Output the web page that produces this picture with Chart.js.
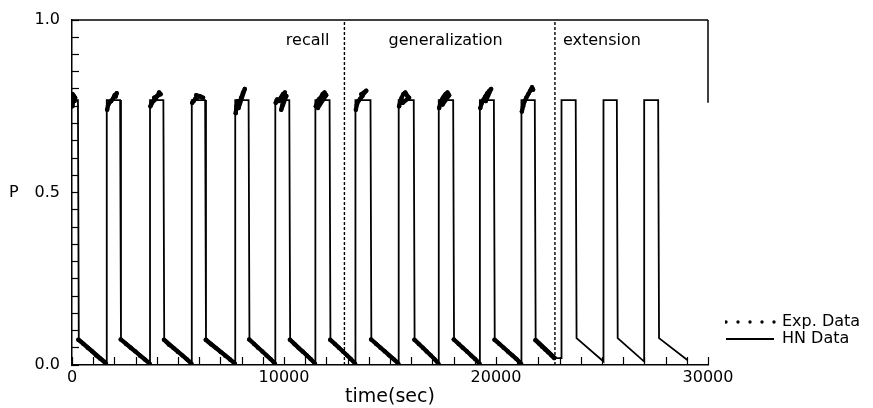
<!DOCTYPE html>
<html><head><meta charset="utf-8">
<script src="https://cdn.jsdelivr.net/npm/chart.js@4.4.1/dist/chart.umd.min.js"></script>
<style>html,body{margin:0;padding:0;background:#fff;} canvas{display:block;}</style>
</head><body>
<canvas id="c" width="873" height="408"></canvas>
<script>
// HN model output (time in s, P)
const hnTime = [
  0, 280, 320,
  1640, 1640, 2270, 2310,
  3680, 3680, 4310, 4350,
  5650, 5650, 6280, 6320,
  7700, 7700, 8330, 8370,
  9590, 9590, 10250, 10290,
  11480, 11480, 12150, 12190,
  13370, 13370, 14080, 14120,
  15410, 15410, 16120, 16160,
  17300, 17300, 17980, 18020,
  19240, 19240, 19900, 19940,
  21200, 21200, 21830, 21870,
  22870, 23090,
  23090, 23760, 23800,
  25070, 25070, 25700, 25740,
  26990, 26990, 27650, 27690,
  29040
];
const hnP = [
  0.768, 0.768, 0.078,
  0.008, 0.768, 0.768, 0.078,
  0.008, 0.768, 0.768, 0.078,
  0.008, 0.768, 0.768, 0.078,
  0.008, 0.768, 0.768, 0.078,
  0.008, 0.768, 0.768, 0.078,
  0.008, 0.768, 0.768, 0.078,
  0.008, 0.768, 0.768, 0.078,
  0.008, 0.768, 0.768, 0.078,
  0.008, 0.768, 0.768, 0.078,
  0.008, 0.768, 0.768, 0.078,
  0.008, 0.768, 0.768, 0.078,
  0.020, 0.020,
  0.768, 0.768, 0.078,
  0.010, 0.768, 0.768, 0.078,
  0.010, 0.768, 0.768, 0.078,
  0.014
];
// Experimental data (time in s, P); null separates the measured runs
const expTime = [
  0, 20, 40, 60, 90, 120, 150, 30, null,  300, 540, 740, 940, 1140, 1340, 1600, null,
  1660, 1700, 1760, 1850, 1930, 2010, 2110, 2060, null,  2300, 2550, 2770, 2990, 3210, 3430, 3660, null,
  3700, 3760, 3840, 3930, 4020, 4110, 4180, 3880, null,  4340, 4580, 4790, 5000, 5200, 5410, 5630, null,
  5670, 5740, 5820, 5900, 5990, 6080, 6180, 5860, null,  6310, 6560, 6790, 7010, 7230, 7450, 7680, null,
  7720, 7760, 7820, 7900, 7980, 8070, 8150, 7860, null,  8360, 8590, 8780, 8980, 9170, 9370, 9570, null,
  9610, 9680, 9760, 9850, 9950, 10040, 9870, 10110, null,  10280, 10500, 10690, 10880, 11070, 11260, 11460, null,
  11500, 11560, 11640, 11730, 11820, 11910, 11990, 11600, null,  12180, 12400, 12590, 12780, 12970, 13160, 13350, null,
  13390, 13440, 13510, 13600, 13700, 13800, 13880, 13650, null,  14110, 14350, 14550, 14760, 14960, 15170, 15390, null,
  15430, 15480, 15550, 15630, 15720, 15820, 15900, 15600, null,  16150, 16360, 16550, 16730, 16920, 17100, 17280, null,
  17320, 17380, 17450, 17530, 17620, 17710, 17790, 17480, null,  18010, 18240, 18430, 18630, 18820, 19020, 19220, null,
  19260, 19320, 19400, 19490, 19590, 19690, 19770, 19520, null,  19930, 20160, 20360, 20560, 20770, 20970, 21180, null,
  21220, 21280, 21350, 21430, 21520, 21610, 21700, 21750, null,  21860, 22030, 22180, 22320, 22460, 22610, 22750
];
const expP = [
  0.775, 0.750, 0.760, 0.770, 0.780, 0.765, 0.775, 0.785, null,  0.073, 0.061, 0.050, 0.040, 0.028, 0.018, 0.004, null,
  0.740, 0.752, 0.760, 0.765, 0.772, 0.782, 0.788, 0.778, null,  0.074, 0.061, 0.050, 0.039, 0.027, 0.016, 0.004, null,
  0.750, 0.758, 0.765, 0.770, 0.780, 0.790, 0.785, 0.775, null,  0.073, 0.059, 0.049, 0.038, 0.028, 0.017, 0.004, null,
  0.760, 0.765, 0.772, 0.775, 0.780, 0.778, 0.775, 0.782, null,  0.073, 0.060, 0.049, 0.038, 0.027, 0.016, 0.004, null,
  0.730, 0.750, 0.765, 0.760, 0.775, 0.790, 0.800, 0.745, null,  0.074, 0.061, 0.050, 0.039, 0.028, 0.017, 0.004, null,
  0.760, 0.770, 0.765, 0.775, 0.785, 0.790, 0.740, 0.780, null,  0.073, 0.060, 0.049, 0.039, 0.028, 0.017, 0.004, null,
  0.750, 0.760, 0.770, 0.775, 0.785, 0.790, 0.782, 0.745, null,  0.073, 0.061, 0.050, 0.039, 0.028, 0.017, 0.004, null,
  0.740, 0.755, 0.765, 0.772, 0.780, 0.790, 0.795, 0.785, null,  0.074, 0.061, 0.050, 0.039, 0.028, 0.017, 0.004, null,
  0.750, 0.765, 0.775, 0.785, 0.790, 0.780, 0.775, 0.760, null,  0.073, 0.061, 0.050, 0.039, 0.028, 0.017, 0.004, null,
  0.745, 0.760, 0.770, 0.778, 0.785, 0.790, 0.782, 0.755, null,  0.074, 0.061, 0.050, 0.039, 0.028, 0.017, 0.004, null,
  0.745, 0.758, 0.768, 0.778, 0.788, 0.795, 0.800, 0.765, null,  0.073, 0.061, 0.050, 0.039, 0.028, 0.017, 0.004, null,
  0.735, 0.750, 0.765, 0.775, 0.785, 0.795, 0.805, 0.798, null,  0.072, 0.062, 0.053, 0.045, 0.037, 0.028, 0.020
];
const sectionBounds = [12850, 22780];
const sectionLabels = ['recall', 'generalization', 'extension'];
const xLabelTicks = [0, 10000, 20000, 30000];
const xMinorStep = 1000;
const yLabelTicks = ['0.0', 'P\u2002\u20020.5', '1.0'];
const seriesNames = ['Exp. Data', 'HN Data'];
const xTitle = 'time(sec)';

const FONT = '"DejaVu Sans", sans-serif';
Chart.defaults.font.family = FONT;
Chart.defaults.color = '#000';

const hnPoints = hnTime.map((t, i) => ({x: t, y: hnP[i]}));
const expPoints = expTime.map((t, i) => ({x: t, y: expP[i]}));

const sectionText = {
  id: 'sectionText',
  afterDatasetsDraw(chart) {
    const {ctx, scales: {x, y}} = chart;
    ctx.save();
    ctx.fillStyle = '#000';
    ctx.font = '16px ' + FONT;
    ctx.textBaseline = 'middle';
    const yy = y.getPixelForValue(0.94);
    const b1 = x.getPixelForValue(sectionBounds[0]);
    const b2 = x.getPixelForValue(sectionBounds[1]);
    ctx.textAlign = 'right'; ctx.fillText(sectionLabels[0], b1 - 15, yy);
    ctx.textAlign = 'center'; ctx.fillText(sectionLabels[1], (b1 + b2) / 2 - 4, yy);
    ctx.textAlign = 'left'; ctx.fillText(sectionLabels[2], b2 + 8, yy);
    ctx.restore();
  }
};

// inward minor tick marks on the time axis, placed through the x scale
const xInwardTicks = {
  id: 'xInwardTicks',
  afterDraw(chart) {
    const {ctx, scales: {x}, chartArea} = chart;
    ctx.save();
    ctx.strokeStyle = '#000';
    ctx.lineWidth = 1.2;
    for (let v = x.min; v <= x.max + 1e-6; v += xMinorStep) {
      const px = Math.round(x.getPixelForValue(v)) + 0.5;
      ctx.beginPath();
      ctx.moveTo(px, chartArea.bottom);
      ctx.lineTo(px, chartArea.bottom - 8);
      ctx.stroke();
    }
    ctx.restore();
  }
};

new Chart(document.getElementById('c'), {
  type: 'line',
  data: {
    datasets: [
      {label: seriesNames[0], data: expPoints, showLine: true, spanGaps: false,
       borderColor: '#000', borderWidth: 4.2, borderCapStyle: 'round', borderJoinStyle: 'round',
       pointRadius: 2.2, pointBackgroundColor: '#000', pointBorderWidth: 0, tension: 0},
      {label: seriesNames[1], data: hnPoints, borderColor: '#000', borderWidth: 1.8,
       pointRadius: 0, tension: 0, fill: false},
      {label: 'b1', data: [{x: sectionBounds[0], y: 0}, {x: sectionBounds[0], y: 1}],
       borderColor: '#000', borderWidth: 1.4, borderDash: [3, 2], pointRadius: 0},
      {label: 'b2', data: [{x: sectionBounds[1], y: 0}, {x: sectionBounds[1], y: 1}],
       borderColor: '#000', borderWidth: 1.4, borderDash: [3, 2], pointRadius: 0},
      {label: 'top', data: [{x: 0, y: 1}, {x: 30000, y: 1}],
       borderColor: '#000', borderWidth: 1.5, pointRadius: 0, clip: false},
      {label: 'right', data: [{x: 30000, y: 1}, {x: 30000, y: 0.76}],
       borderColor: '#000', borderWidth: 1.5, pointRadius: 0, clip: false}
    ]
  },
  options: {
    responsive: false,
    animation: false,
    devicePixelRatio: 1,
    events: [],
    layout: {padding: {top: 20, right: 3, bottom: 0, left: 0}},
    plugins: {
      tooltip: {enabled: false},
      legend: {
        display: true, position: 'right', align: 'end', fullSize: false,
        onClick: null,
        labels: {
          boxWidth: 48, boxHeight: 0, padding: 1, color: '#000',
          font: {family: FONT, size: 16},
          generateLabels: () => [
            {text: seriesNames[0], fillStyle: 'rgba(0,0,0,0)', strokeStyle: '#000', lineWidth: 3.4,
             lineDash: [0, 12], lineCap: 'round', fontColor: '#000', hidden: false, datasetIndex: 0},
            {text: seriesNames[1], fillStyle: 'rgba(0,0,0,0)', strokeStyle: '#000', lineWidth: 1.8,
             lineDash: [], lineCap: 'butt', fontColor: '#000', hidden: false, datasetIndex: 1},
            {text: '', fillStyle: 'rgba(0,0,0,0)', strokeStyle: 'rgba(0,0,0,0)', lineWidth: 0,
             fontColor: '#000', hidden: false}
          ]
        }
      }
    },
    scales: {
      x: {
        type: 'linear', position: 'bottom', min: 0, max: 30000,
        ticks: {stepSize: 10000, autoSkip: false, maxRotation: 0, color: '#000', padding: 3,
          font: {family: FONT, size: 16},
          callback: v => xLabelTicks.includes(v) ? String(v) : ''},
        grid: {display: false, drawTicks: false},
        border: {display: true, color: '#000', width: 1.5},
        title: {display: true, text: xTitle, color: '#000', font: {family: FONT, size: 19},
          padding: {top: 0, bottom: 0}},
        afterFit: s => { s.height = 43; }
      },
      y: {
        type: 'linear', position: 'left', min: 0, max: 1,
        ticks: {stepSize: 0.05, autoSkip: false, color: '#000', padding: 19,
          font: {family: FONT, size: 16},
          callback: v => {
            if (Math.abs(v) < 1e-6) return yLabelTicks[0];
            if (Math.abs(v - 0.5) < 1e-6) return yLabelTicks[1];
            if (Math.abs(v - 1) < 1e-6) return yLabelTicks[2];
            return '';
          }},
        grid: {display: true, drawOnChartArea: false, drawTicks: true, tickLength: -7,
          tickColor: '#000', tickWidth: 1.2},
        border: {display: true, color: '#000', width: 1.5},
        afterFit: s => { s.width = 72; s.paddingTop = 10; s.paddingBottom = 10; }
      },
      y2: {
        type: 'linear', position: 'right', display: true,
        grid: {display: false}, ticks: {display: false}, border: {display: false},
        afterFit: s => { s.width = 17; }
      }
    }
  },
  plugins: [sectionText, xInwardTicks]
});
</script>
</body></html>
